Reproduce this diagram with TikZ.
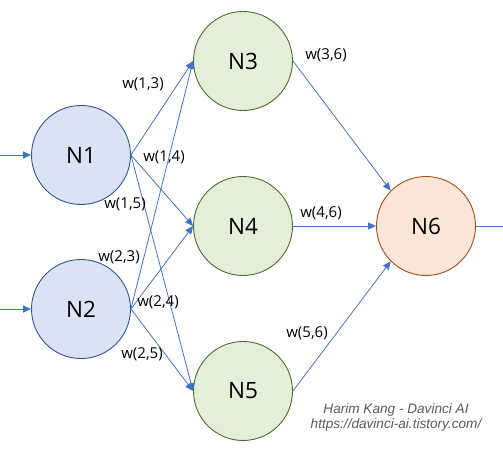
\documentclass[tikz,border=0pt]{standalone}
\usepackage{fontspec}
\setmainfont{Open Sans}
\newfontfamily\wmfont{Liberation Sans}
\usetikzlibrary{arrows.meta}
\definecolor{arrowblue}{HTML}{4472C4}
\definecolor{inFill}{HTML}{DAE3F3}
\definecolor{inDraw}{HTML}{2F5597}
\definecolor{hidFill}{HTML}{E2F0D9}
\definecolor{hidDraw}{HTML}{4E6B30}
\definecolor{outFill}{HTML}{FBE5D6}
\definecolor{outDraw}{HTML}{9C4E1C}
\definecolor{wmgray}{HTML}{595959}
\tikzset{
  neuron/.style={circle, minimum size=99pt, inner sep=0pt, line width=0.9pt,
    font=\fontsize{22.5}{26}\selectfont},
  inneuron/.style={neuron, fill=inFill, draw=inDraw},
  hidneuron/.style={neuron, fill=hidFill, draw=hidDraw},
  outneuron/.style={neuron, fill=outFill, draw=outDraw},
  conn/.style={draw=arrowblue, line width=0.8pt, -{Triangle[length=8pt,width=7pt]}},
  plainconn/.style={draw=arrowblue, line width=0.8pt},
  wlabel/.style={font=\fontsize{15}{17}\selectfont, inner sep=0pt}
}
\begin{document}
\begin{tikzpicture}[x=1pt,y=-1pt]
\useasboundingbox (0,0) rectangle (503,455);
\node[inneuron] (N1) at (81,155) {N1};
\node[inneuron] (N2) at (81,309) {N2};
\node[hidneuron] (N3) at (243,61) {N3};
\node[hidneuron] (N4) at (243,226) {N4};
\node[hidneuron] (N5) at (243,391) {N5};
\node[outneuron] (N6) at (426,226) {N6};
\coordinate (in1) at (0,155);
\coordinate (in2) at (0,309);
\coordinate (out6) at (503,226);
\draw[conn] (in1) -- (N1.west);
\draw[conn] (in2) -- (N2.west);
\draw[conn] (N1.east) -- (N3.west);
\draw[conn] (N1.east) -- (N4.west);
\draw[conn] (N1.east) -- (N5.west);
\draw[conn] (N2.east) -- (N3.west);
\draw[conn] (N2.east) -- (N4.west);
\draw[conn] (N2.east) -- (N5.west);
\draw[conn] (N3.east) -- (N6.north west);
\draw[conn] (N4.east) -- (N6.west);
\draw[conn] (N5.east) -- (N6.south west);
\draw[plainconn] (N6.east) -- (out6);
\node[wlabel] (w13) at (143,84) {w(1,3)};
\node[wlabel] (w14) at (164,157) {w(1,4)};
\node[wlabel] (w15) at (125,204) {w(1,5)};
\node[wlabel] (w23) at (119,257) {w(2,3)};
\node[wlabel] (w24) at (158,302) {w(2,4)};
\node[wlabel] (w25) at (142,354) {w(2,5)};
\node[wlabel] (w36) at (326,55) {w(3,6)};
\node[wlabel] (w46) at (321,213) {w(4,6)};
\node[wlabel] (w56) at (307,333) {w(5,6)};
\node[font=\wmfont\itshape\fontsize{13.6}{15}\selectfont, text=wmgray, align=center, inner sep=0pt] (wm) at (396,417) {Harim Kang - Davinci AI\\https://davinci-ai.tistory.com/};
\end{tikzpicture}
\end{document}
